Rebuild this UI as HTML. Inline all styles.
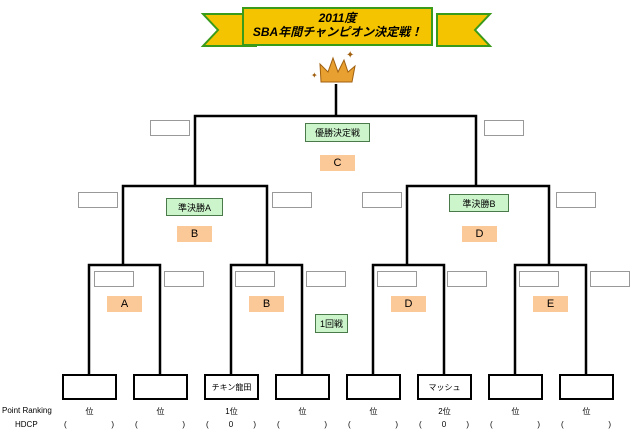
<!DOCTYPE html>
<html><head><meta charset="utf-8"><style>
body{margin:0;width:640px;height:439px;background:#fff;position:relative;overflow:hidden;font-family:"Liberation Sans","Noto Sans CJK JP",sans-serif}
.a{position:absolute;box-sizing:border-box}
.g{border:1px solid #999;width:40px;height:16px}
.lbl{background:#ccf5cc;border:1px solid #4a7a4a;font-size:9px;display:flex;align-items:center;justify-content:center}
.o{background:#fbc898;font-size:11px;display:flex;align-items:center;justify-content:center;width:35px;height:16px}
.b{border:2px solid #000;width:55px;height:26px;font-size:8px;display:flex;align-items:center;justify-content:center}
.t{font-size:8px;text-align:center}
</style></head><body>
<svg class="a" style="left:0;top:0" width="640" height="439">
<g fill="#f5c400" stroke="#3a9a1a" stroke-width="2">
<polygon points="203,14 256,14 256,46 203,46 218,30"/>
<polygon points="437,14 490,14 475,30 490,46 437,46"/>
<rect x="243" y="8" width="189" height="37"/>
</g>
<g fill="#e8a030" stroke="#a06010"><polygon points="321,82 320,64 328,72 333,58 338,72 344,60 348,72 355,66 352,82"/></g>
<text x="346" y="58" fill="#a06010" font-size="10">✦</text><text x="311" y="78" fill="#a06010" font-size="8">✦</text>
<g stroke="#000" stroke-width="2.5" fill="none">
<line x1="336" y1="84" x2="336" y2="116"/>
<polyline points="123,265 123,186 267,186 267,265"/>
<polyline points="195,186 195,116 476,116 476,186"/>
<polyline points="407,265 407,186 549,186 549,265"/>
<polyline points="89,374 89,265 160,265 160,374"/>
<polyline points="231,374 231,265 302,265 302,374"/>
<polyline points="373,374 373,265 444,265 444,374"/>
<polyline points="515,374 515,265 586,265 586,374"/>
</g></svg>
<div class="a" style="left:243px;top:11px;width:189px;text-align:center;font-size:12px;font-style:italic;font-weight:bold;line-height:14px">2011度<br>SBA年間チャンピオン決定戦！</div>
<div class="a g" style="left:150px;top:120px"></div><div class="a g" style="left:484px;top:120px"></div>
<div class="a g" style="left:78px;top:192px"></div><div class="a g" style="left:272px;top:192px"></div>
<div class="a g" style="left:362px;top:192px"></div><div class="a g" style="left:556px;top:192px"></div>
<div class="a g" style="left:94px;top:271px"></div><div class="a g" style="left:164px;top:271px"></div>
<div class="a g" style="left:235px;top:271px"></div><div class="a g" style="left:306px;top:271px"></div>
<div class="a g" style="left:377px;top:271px"></div><div class="a g" style="left:447px;top:271px"></div>
<div class="a g" style="left:519px;top:271px"></div><div class="a g" style="left:590px;top:271px"></div>
<div class="a lbl" style="left:305px;top:123px;width:65px;height:19px">優勝決定戦</div>
<div class="a lbl" style="left:166px;top:198px;width:57px;height:18px">準決勝A</div>
<div class="a lbl" style="left:449px;top:194px;width:60px;height:18px">準決勝B</div>
<div class="a lbl" style="left:315px;top:314px;width:33px;height:19px">1回戦</div>
<div class="a o" style="left:320px;top:155px">C</div>
<div class="a o" style="left:177px;top:226px">B</div><div class="a o" style="left:462px;top:226px">D</div>
<div class="a o" style="left:107px;top:296px">A</div><div class="a o" style="left:249px;top:296px">B</div>
<div class="a o" style="left:391px;top:296px">D</div><div class="a o" style="left:533px;top:296px">E</div>
<div class="a b" style="left:62px;top:374px"></div><div class="a b" style="left:133px;top:374px"></div>
<div class="a b" style="left:204px;top:374px">チキン龍田</div><div class="a b" style="left:275px;top:374px"></div>
<div class="a b" style="left:346px;top:374px"></div><div class="a b" style="left:417px;top:374px">マッシュ</div>
<div class="a b" style="left:488px;top:374px"></div><div class="a b" style="left:559px;top:374px"></div>
<div class="a t" style="left:2px;top:406px">Point Ranking</div>
<div class="a t" style="left:15px;top:420px">HDCP</div>
<div class="a t" style="left:62px;top:406px;width:55px">位</div><div class="a t" style="left:133px;top:406px;width:55px">位</div>
<div class="a t" style="left:204px;top:406px;width:55px">1位</div><div class="a t" style="left:275px;top:406px;width:55px">位</div>
<div class="a t" style="left:346px;top:406px;width:55px">位</div><div class="a t" style="left:417px;top:406px;width:55px">2位</div>
<div class="a t" style="left:488px;top:406px;width:55px">位</div><div class="a t" style="left:559px;top:406px;width:55px">位</div>
<div class="a t" style="left:64px;top:420px;width:50px;display:flex;justify-content:space-between"><span>(</span><span>)</span></div>
<div class="a t" style="left:135px;top:420px;width:50px;display:flex;justify-content:space-between"><span>(</span><span>)</span></div>
<div class="a t" style="left:206px;top:420px;width:50px;display:flex;justify-content:space-between"><span>(</span><span>0</span><span>)</span></div>
<div class="a t" style="left:277px;top:420px;width:50px;display:flex;justify-content:space-between"><span>(</span><span>)</span></div>
<div class="a t" style="left:348px;top:420px;width:50px;display:flex;justify-content:space-between"><span>(</span><span>)</span></div>
<div class="a t" style="left:419px;top:420px;width:50px;display:flex;justify-content:space-between"><span>(</span><span>0</span><span>)</span></div>
<div class="a t" style="left:490px;top:420px;width:50px;display:flex;justify-content:space-between"><span>(</span><span>)</span></div>
<div class="a t" style="left:561px;top:420px;width:50px;display:flex;justify-content:space-between"><span>(</span><span>)</span></div>
</body></html>
